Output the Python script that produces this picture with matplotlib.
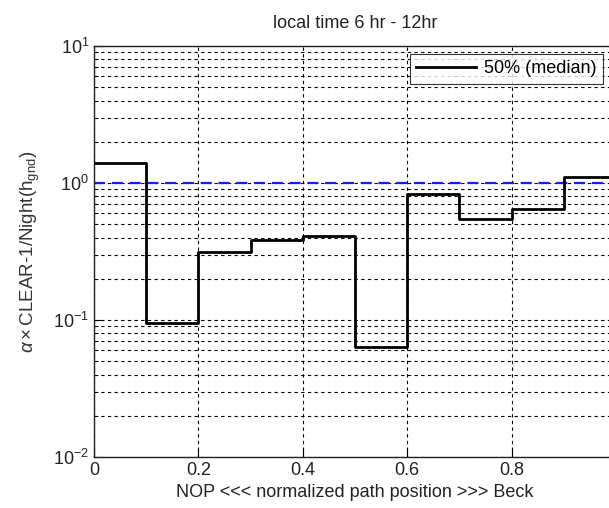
import matplotlib
matplotlib.use("Agg")
import matplotlib.pyplot as plt
import numpy as np
from matplotlib.ticker import LogLocator, NullFormatter

plt.rcParams['font.family'] = ['Liberation Sans', 'DejaVu Sans']
plt.rcParams['mathtext.fontset'] = 'custom'
plt.rcParams['mathtext.rm'] = 'Liberation Sans'
plt.rcParams['mathtext.it'] = 'Liberation Sans:italic'

# data
bin_edges = [0.0, 0.1, 0.2, 0.3, 0.4, 0.5, 0.6, 0.7, 0.8, 0.9, 1.0]
median_vals = [1.40, 0.095, 0.315, 0.385, 0.41, 0.0635, 0.826, 0.543, 0.643, 1.106]
ref_level = 1.0
x_ticks = [0, 0.2, 0.4, 0.6, 0.8]
x_tick_labels = ['0', '0.2', '0.4', '0.6', '0.8']

fig = plt.figure(figsize=(6.09, 5.08), dpi=100)
W, H = 609, 508
left, right, top, bottom = 94, 616, 46, 457
ax = fig.add_axes([left / W, 1 - bottom / H, (right - left) / W, (bottom - top) / H])

ys = list(median_vals) + [median_vals[-1]]
ax.step(bin_edges, ys, where='post', color='black', lw=2, label='50% (median)', zorder=3)
ax.axhline(ref_level, color='#1a1aff', lw=1.6, ls=(0, (5, 3)), zorder=2)

ax.set_yscale('log')
ax.set_ylim(1e-2, 1e1)
ax.set_xlim(0, 1.0)
ax.set_xticks(x_ticks)
ax.set_xticklabels(x_tick_labels)
ax.yaxis.set_major_locator(LogLocator(base=10, numticks=10))
ax.yaxis.set_minor_locator(LogLocator(base=10, subs=np.arange(2, 10), numticks=10))
ax.yaxis.set_minor_formatter(NullFormatter())

ax.grid(True, which='major', axis='both', color='black', ls=(0, (3, 3)), lw=0.8)
ax.grid(True, which='minor', axis='y', color='black', ls=(0, (3, 3)), lw=0.8)

ax.tick_params(which='both', direction='in', labelsize=13, colors='black', labelcolor='#222222')
ax.tick_params(which='major', length=6)
ax.tick_params(which='minor', length=3)
for s in ax.spines.values():
    s.set_linewidth(1.0)
    s.set_color('#222222')

ax.set_title('local time 6 hr - 12hr', fontsize=13, color='#222222', pad=13)
ax.set_xlabel('NOP <<< normalized path position >>> Beck', fontsize=13, color='#222222', labelpad=4)
ax.set_ylabel(r'$\alpha\times$CLEAR-1/Night(h$_{\mathrm{gnd}}$)', fontsize=13.5, color='#333333', labelpad=8)

leg = ax.legend(loc='upper right', bbox_to_anchor=((603 - left) / (right - left), 1 - 8 / (bottom - top)),
                fontsize=13, frameon=True, fancybox=False, borderpad=0.35, handlelength=3.3,
                handletextpad=0.45, borderaxespad=0)
leg.get_frame().set_edgecolor('black')
leg.get_frame().set_linewidth(0.8)

fig.savefig('out.png', dpi=100)
